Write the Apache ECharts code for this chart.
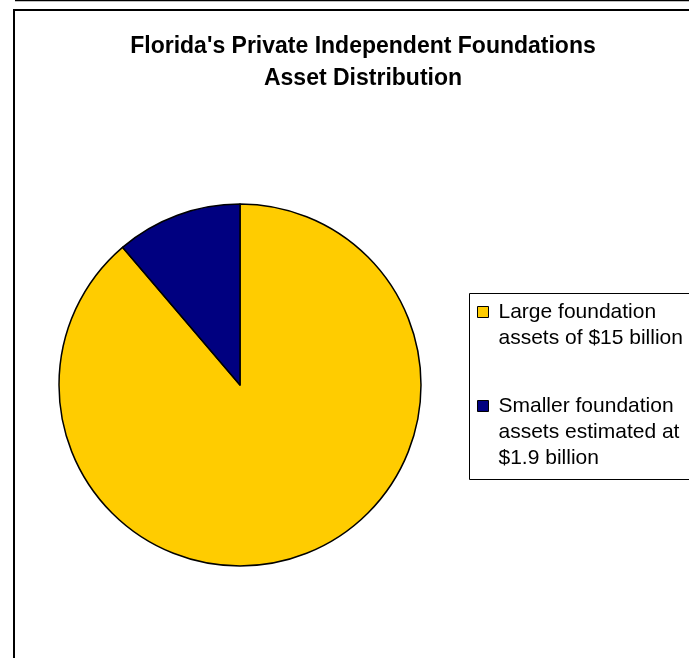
<!DOCTYPE html>
<html>
<head>
<meta charset="utf-8">
<script src="https://cdn.jsdelivr.net/npm/echarts@6/dist/echarts.min.js"></script>
<style>
html,body{margin:0;padding:0;background:#fff;}
#chart{width:689px;height:658px;}
</style>
</head>
<body>
<div id="chart"></div>
<script>
var titleLines = ["Florida's Private Independent Foundations", "Asset Distribution"];
var categories = ["Large foundation\nassets of $15 billion", "Smaller foundation\nassets estimated at\n$1.9 billion"];
var values = [15, 1.9];
var colors = ["#FFCC00", "#000080"];

var chart = echarts.init(document.getElementById('chart'), null, {renderer: 'canvas'});
var pieData = categories.map(function (c, i) {
  return {name: c, value: values[i], itemStyle: {color: colors[i]}};
});
function legendFor(i, top) {
  var nLines = categories[i].split('\n').length;
  var prefix = '';
  for (var k = 1; k < nLines; k++) prefix += ' \n';
  return {
    orient: 'vertical',
    left: 477,
    top: top,
    padding: 0,
    icon: 'rect',
    itemWidth: 11,
    itemHeight: 11,
    selectedMode: false,
    itemStyle: {borderColor: '#000', borderWidth: 1},
    textStyle: {fontFamily: 'Liberation Sans, Arial', fontSize: 21, lineHeight: 26, color: '#000', padding: [0, 0, 0, 5]},
    formatter: function (name) { return prefix + name; },
    data: [categories[i]]
  };
}
chart.setOption({
  animation: false,
  backgroundColor: '#ffffff',
  title: {
    text: titleLines.join('\n'),
    left: 358,
    textAlign: 'center',
    top: 26,
    textStyle: {fontFamily: 'Liberation Sans, Arial', fontWeight: 'bold', fontSize: 23, lineHeight: 32, color: '#000'}
  },
  legend: [legendFor(0, 273), legendFor(1, 341)],
  graphic: [
    {type: 'line', shape: {x1: 15, y1: 0.5, x2: 689, y2: 0.5}, style: {stroke: '#000', lineWidth: 1.5}, silent: true},
    {type: 'rect', shape: {x: 14, y: 10, width: 700, height: 700}, style: {fill: null, stroke: '#000', lineWidth: 2}, silent: true, z: -1},
    {type: 'rect', shape: {x: 469.5, y: 293.5, width: 300, height: 186}, style: {fill: null, stroke: '#000', lineWidth: 1}, silent: true, z: -1}
  ],
  series: [{
    type: 'pie',
    center: [240, 385],
    radius: 181,
    startAngle: 90,
    clockwise: true,
    label: {show: false},
    labelLine: {show: false},
    silent: true,
    itemStyle: {borderColor: '#000', borderWidth: 1.5},
    data: pieData
  }]
});
</script>
</body>
</html>
